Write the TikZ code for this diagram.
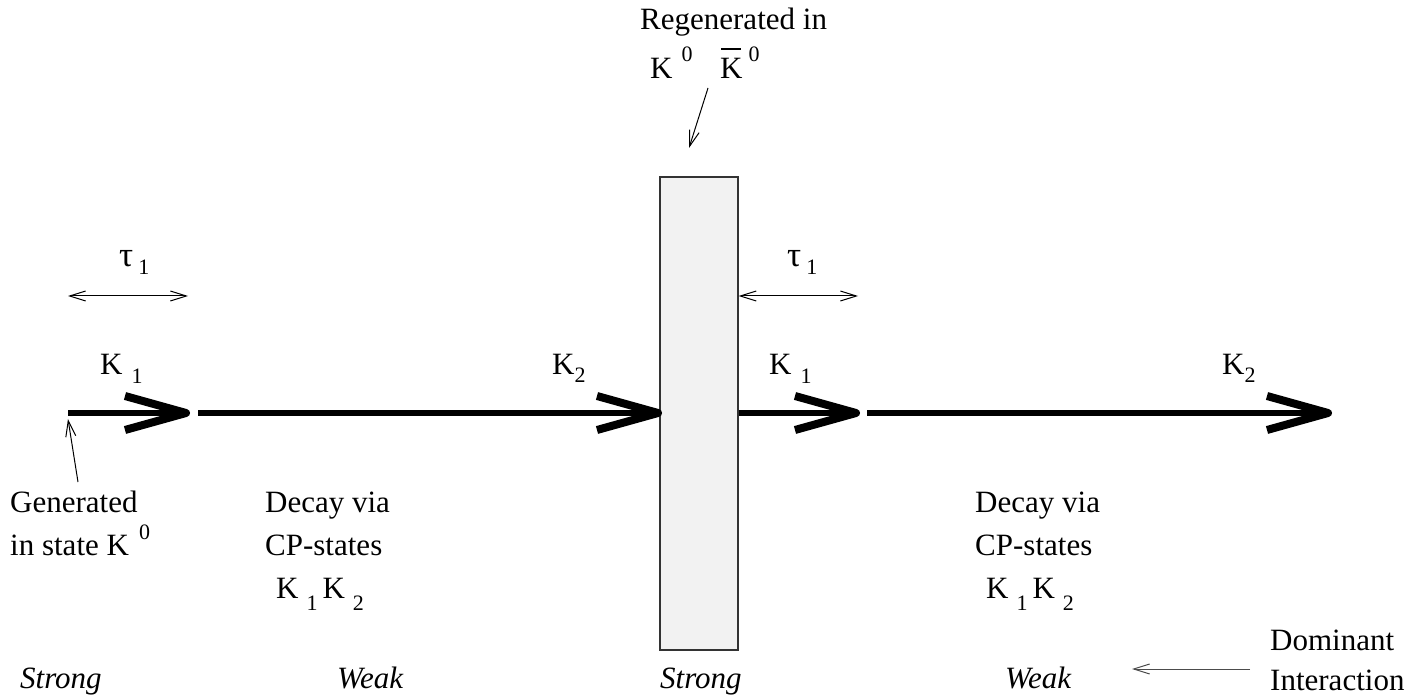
\documentclass[tikz,border=0pt]{standalone}
\usepackage{fontspec}
\setmainfont{Liberation Serif}
\usetikzlibrary{arrows.meta}
\newcommand\lowsub[2]{\raisebox{-#1pt}{\fontsize{22}{22}\selectfont #2}}
\newcommand\highsup[2]{\raisebox{#1pt}{\fontsize{22}{22}\selectfont #2}}
\newcommand\bigtau{{\fontsize{35}{35}\selectfont τ}}
\definecolor{boxfill}{HTML}{F2F2F2}
\begin{document}
\begin{tikzpicture}[x=1pt,y=-1pt,
  txt/.style={inner sep=0pt, anchor=base west, font=\fontsize{31}{43}\selectfont},
  itxt/.style={txt, font=\fontsize{31}{43}\selectfont\itshape},
  beam/.style={line width=6pt},
  barb/.style={line width=8pt, line cap=butt, line join=round},
  pointer/.style={line width=1pt, -{Straight Barb[length=16pt,width=10pt]}},
  span/.style={line width=1pt, {Straight Barb[length=16pt,width=10pt]}-{Straight Barb[length=16pt,width=10pt]}}
]
\useasboundingbox (0,0) rectangle (1425,700);

% barrier
\node[draw=black!80, line width=1.2pt, fill=boxfill, minimum width=78pt, minimum height=473pt, inner sep=0pt] (box) at (699,413.5) {};

% beam coordinates
\coordinate (b1s) at (68,413);  \coordinate (b1e) at (186,413);
\coordinate (b2s) at (198,413); \coordinate (b2e) at (658,413);
\coordinate (b3s) at (box.east |- b1s); \coordinate (b3e) at (856,413);
\coordinate (b4s) at (867,413); \coordinate (b4e) at (1328,413);

\draw[beam] (b1s) -- (b1e);
\draw[barb] (b1e) +(-61,-17) -- (b1e) -- +(-61,17);
\draw[beam] (b2s) -- (b2e);
\draw[barb] (b2e) +(-61,-17) -- (b2e) -- +(-61,17);
\draw[beam] (b3s) -- (b3e);
\draw[barb] (b3e) +(-61,-17) -- (b3e) -- +(-61,17);
\draw[beam] (b4s) -- (b4e);
\draw[barb] (b4e) +(-61,-17) -- (b4e) -- +(-61,17);

% tau spans
\coordinate (t1s) at (68,296); \coordinate (t1e) at (188,296);
\coordinate (t2s) at (box.east |- t1s); \coordinate (t2e) at (858,296);
\draw[span] (t1s) -- (t1e);
\draw[span] (t2s) -- (t2e);
\node[txt] (tau1) at (119,267) {\bigtau\hspace{5pt}\lowsub{8}{1}};
\node[txt] (tau2) at (787,267) {\bigtau\hspace{5pt}\lowsub{8}{1}};

% beam labels
\node[txt] (k1a) at (100,375) {K\hspace{9pt}\lowsub{9}{1}};
\node[txt] (k2a) at (552,375) {K\lowsub{8}{2}};
\node[txt] (k1b) at (769,375) {K\hspace{9pt}\lowsub{9}{1}};
\node[txt] (k2b) at (1222,375) {K\lowsub{8}{2}};

% regenerated
\node[txt] (regen) at (640,30) {Regenerated in};
\node[txt] (regk) at (650,79) {K\hspace{9pt}\highsup{17}{0}};
\node[txt] (regkb) at (720,79) {\makebox[0pt][l]{\hspace{1pt}\rule[29pt]{20pt}{1.5pt}}K\hspace{6pt}\highsup{17}{0}};
\coordinate (regfrom) at (708,88);
\coordinate (regto) at (689,148);
\draw[pointer] (regfrom) -- (regto);

% generated
\node[txt] (gen1) at (10,512) {Generated};
\node[txt] (gen2) at (10,555) {in state K\hspace{10pt}\highsup{16}{0}};
\coordinate (genfrom) at (78,482);
\draw[pointer] (genfrom) -- ([yshift=-6pt]b1s);

% decay blocks
\node[txt] (d1a) at (265,512) {Decay via};
\node[txt] (d1b) at (265,555) {CP-states};
\node[txt] (d1c) at (276,598) {K\hspace{8pt}\lowsub{12}{1}\hspace{5pt}K\hspace{8pt}\lowsub{12}{2}};
\node[txt] (d2a) at (975,512) {Decay via};
\node[txt] (d2b) at (975,555) {CP-states};
\node[txt] (d2c) at (986,598) {K\hspace{8pt}\lowsub{12}{1}\hspace{5pt}K\hspace{8pt}\lowsub{12}{2}};

% interactions
\node[itxt] (s1) at (20,688) {Strong};
\node[itxt] (w1) at (337,688) {Weak};
\node[itxt] (s2) at (660,688) {Strong};
\node[itxt] (w2) at (1005,688) {Weak};
\node[txt] (dom) at (1270,650) {Dominant};
\node[txt] (inter) at (1270,690) {Interaction};
\coordinate (domfrom) at (1250,669);
\coordinate (domto) at (1132,669);
\draw[pointer, draw=black!70] (domfrom) -- (domto);
\end{tikzpicture}
\end{document}
